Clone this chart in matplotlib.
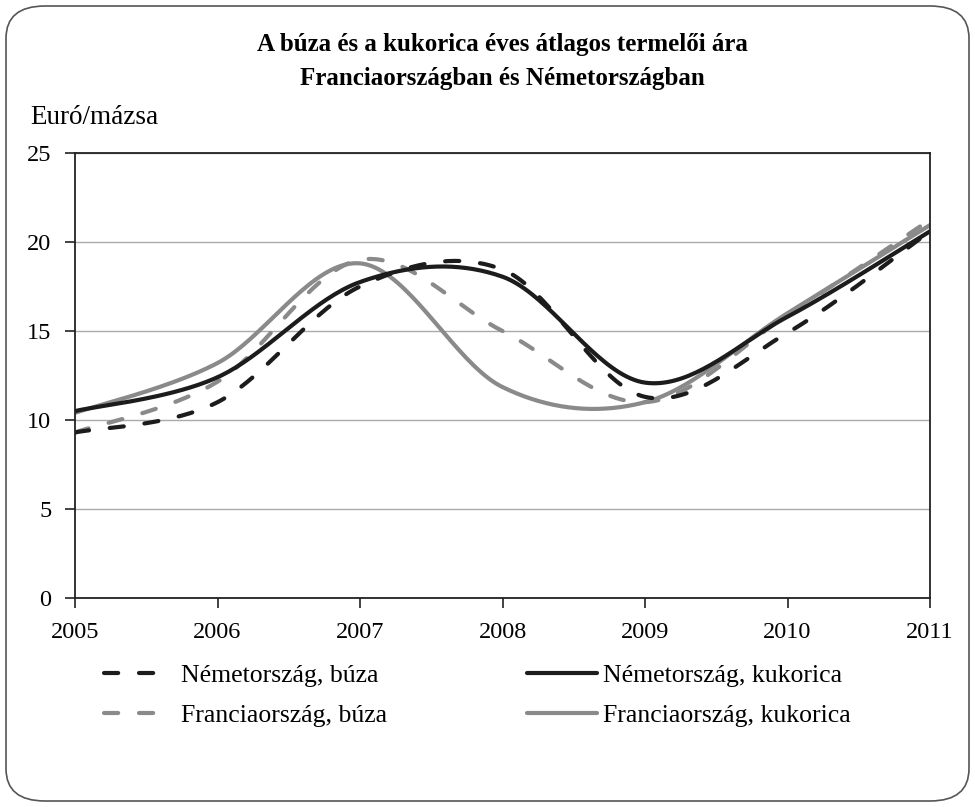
import numpy as np
import matplotlib.pyplot as plt
from matplotlib.patches import FancyBboxPatch

plt.rcParams['font.family'] = ['Liberation Serif', 'DejaVu Serif']

years = [2005, 2006, 2007, 2008, 2009, 2010, 2011]

de_buza = [9.3, 11.0, 17.5, 18.45, 11.3, 14.9, 20.6]
de_kukorica = [10.5, 12.4, 17.75, 18.05, 12.1, 15.8, 20.6]
fr_buza = [9.3, 12.15, 19.0, 15.0, 11.0, 15.9, 21.25]
fr_kukorica = [10.4, 13.2, 18.8, 11.85, 11.0, 16.0, 20.95]

labels = ['Németország, búza', 'Németország, kukorica',
          'Franciaország, búza', 'Franciaország, kukorica']

BLACK = '#1c1c1c'
GRAY = '#8a8a8a'


def smooth(x, y, n=40):
    # Excel-like smoothed line: Catmull-Rom style cubic Bezier
    x = np.asarray(x, float)
    y = np.asarray(y, float)
    k = len(x) - 1
    xs, ys = [], []
    for i in range(k):
        p0 = np.array([x[max(i - 1, 0)], y[max(i - 1, 0)]])
        p1 = np.array([x[i], y[i]])
        p2 = np.array([x[i + 1], y[i + 1]])
        p3 = np.array([x[min(i + 2, k)], y[min(i + 2, k)]])
        c1 = p1 + (p2 - p0) / 6
        c2 = p2 - (p3 - p1) / 6
        t = np.linspace(0, 1, n)[:, None]
        pts = ((1 - t) ** 3 * p1 + 3 * (1 - t) ** 2 * t * c1
               + 3 * (1 - t) * t ** 2 * c2 + t ** 3 * p2)
        xs.append(pts[:, 0])
        ys.append(pts[:, 1])
    return np.concatenate(xs), np.concatenate(ys)


fig = plt.figure(figsize=(9.75, 8.07), dpi=100)
ax = fig.add_axes([75 / 975, 1 - 598 / 807, 855 / 975, 445 / 807])

# rounded frame around the whole chart
frame = FancyBboxPatch((6 / 975, 6 / 807), 963 / 975, 795 / 807,
                       boxstyle='round,pad=0,rounding_size=0.04',
                       transform=fig.transFigure, facecolor='none',
                       edgecolor='#555555', linewidth=1.2)
fig.patches.append(frame)

lw = 3.0
dash = (3.4, 5.0)
x, y = smooth(years, fr_kukorica)
l4, = ax.plot(x, y, color=GRAY, lw=lw, solid_capstyle='round')
x, y = smooth(years, fr_buza)
l3, = ax.plot(x, y, color=GRAY, lw=lw, dashes=dash, dash_capstyle='round')
x, y = smooth(years, de_kukorica)
l2, = ax.plot(x, y, color=BLACK, lw=lw, solid_capstyle='round')
x, y = smooth(years, de_buza)
l1, = ax.plot(x, y, color=BLACK, lw=lw, dashes=dash, dash_capstyle='round')

ax.set_xlim(2005, 2011)
ax.set_ylim(0, 25)
ax.set_xticks(years)
ax.set_yticks([0, 5, 10, 15, 20, 25])
ax.grid(axis='y', color='#aaaaaa', lw=1)
ax.set_axisbelow(True)
for s in ax.spines.values():
    s.set_color('#222222')
    s.set_linewidth(1.3)
ax.tick_params(labelsize=17.5, length=7, width=1.2, color='#222222')
ax.tick_params(axis='y', pad=10)
ax.tick_params(axis='x', pad=10)

fig.text(502 / 975, 1 - 45 / 807, 'A búza és a kukorica éves átlagos termelői ára',
         ha='center', va='center', fontsize=18, fontweight='bold')
fig.text(502 / 975, 1 - 78 / 807, 'Franciaországban és Németországban',
         ha='center', va='center', fontsize=18, fontweight='bold')
fig.text(30 / 975, 1 - 117 / 807, 'Euró/mázsa', ha='left', va='center', fontsize=19.5)

leg1 = fig.legend([l1, l3], [labels[0], labels[2]], loc='upper left',
                  bbox_to_anchor=(104 / 975, 1 - 664 / 807), frameon=False,
                  fontsize=18.5, handlelength=2.3, handletextpad=0.7,
                  labelspacing=0.65, borderpad=0, borderaxespad=0)
leg2 = fig.legend([l2, l4], [labels[1], labels[3]], loc='upper left',
                  bbox_to_anchor=(527 / 975, 1 - 664 / 807), frameon=False,
                  fontsize=18.5, handlelength=2.72, handletextpad=0.25,
                  labelspacing=0.65, borderpad=0, borderaxespad=0)

fig.savefig('out.png', dpi=100)
